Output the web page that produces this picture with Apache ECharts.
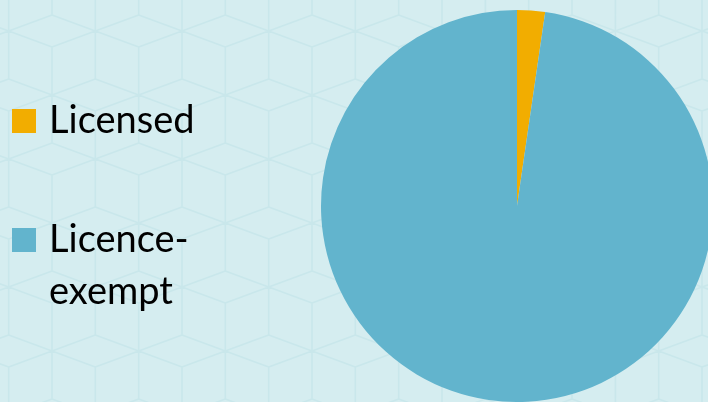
<!DOCTYPE html>
<html>
<head>
<meta charset="utf-8">
<script src="https://cdn.jsdelivr.net/npm/echarts@6/dist/echarts.min.js"></script>
<style>
html,body{margin:0;padding:0;background:#d5edf0;}
#wrap{position:relative;width:708px;height:402px;overflow:hidden;}
#bg{position:absolute;left:0;top:0;}
#chart{position:absolute;left:0;top:0;width:708px;height:402px;}
</style>
</head>
<body>
<div id="wrap">
<svg id="bg" width="708" height="402"></svg>
<div id="chart"></div>
</div>
<script>
// Data
const categories = ['Licensed', 'Licence-exempt'];
const values = [2.3, 97.7];
const colors = ['#f2ad00', '#62b4cd'];

// Decorative tumbling-block background pattern
(function(){
  const svg = document.getElementById('bg');
  const ns = 'http://www.w3.org/2000/svg';
  const W = 86.67, H = 128, h = 16, s = 48;
  let d = '';
  function cube(cx, y0){
    const L = cx - W/2, R = cx + W/2;
    const pts = [
      [cx,y0,L,y0+h],[cx,y0,R,y0+h],[L,y0+h,cx,y0+2*h],[R,y0+h,cx,y0+2*h],
      [cx,y0+2*h,cx,y0+2*h+s],[L,y0+h,L,y0+h+s],[R,y0+h,R,y0+h+s],
      [L,y0+h+s,cx,y0+2*h+s],[R,y0+h+s,cx,y0+2*h+s]
    ];
    pts.forEach(p=>{ d += 'M'+p[0].toFixed(1)+' '+p[1].toFixed(1)+'L'+p[2].toFixed(1)+' '+p[3].toFixed(1); });
  }
  for (let r = -2; r < 6; r++) {
    for (let c = -2; c < 11; c++) {
      cube(52 + c*W, 15 + r*H);
      cube(52 + W/2 + c*W, 15 + H/2 + r*H);
    }
  }
  const path = document.createElementNS(ns, 'path');
  path.setAttribute('d', d);
  path.setAttribute('stroke', '#c9e7eb');
  path.setAttribute('stroke-width', '1.6');
  path.setAttribute('fill', 'none');
  svg.appendChild(path);
})();

const chart = echarts.init(document.getElementById('chart'));
const font = 'Lato, "Open Sans", sans-serif';
chart.setOption({
  backgroundColor: 'transparent',
  animation: false,
  color: colors,
  legend: [
    {
      data: [categories[0]],
      orient: 'vertical', left: 12, top: 95, padding: 0,
      itemWidth: 24, itemHeight: 24, icon: 'rect',
      selectedMode: false,
      textStyle: {fontSize: 38, fontFamily: font, color: '#000', lineHeight: 52, padding: [0,0,0,8]}
    },
    {
      data: [categories[1]],
      orient: 'vertical', left: 12, top: 162, padding: 0,
      itemWidth: 24, itemHeight: 24, icon: 'rect',
      selectedMode: false,
      formatter: function(n){ return n === 'Licence-exempt' ? ' \nLicence-\nexempt' : n; },
      textStyle: {fontSize: 38, fontFamily: font, color: '#000', lineHeight: 52, padding: [0,0,0,8]}
    }
  ],
  series: [{
    type: 'pie',
    center: [517, 206],
    radius: 196,
    startAngle: 90,
    clockwise: true,
    label: {show: false},
    labelLine: {show: false},
    emphasis: {disabled: true},
    itemStyle: {borderWidth: 0},
    data: categories.map((c, i) => ({name: c, value: values[i]}))
  }]
});
</script>
</body>
</html>
